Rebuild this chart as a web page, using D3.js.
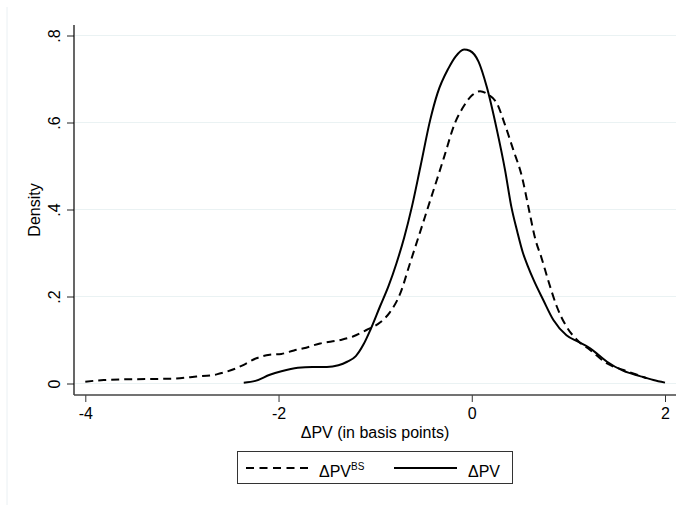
<!DOCTYPE html>
<html>
<head>
<meta charset="utf-8">
<script src="https://cdn.jsdelivr.net/npm/d3@7"></script>
<style>
  html, body { margin: 0; padding: 0; background: #fff; }
  svg { display: block; font-family: "Liberation Sans", Arial, sans-serif; }
</style>
</head>
<body>
<svg id="chart" width="691" height="505"></svg>
<script>
// Kernel density of ΔPV^BS (dashed) and ΔPV (solid), in basis points
const bsX = [-4.0,-3.81,-3.47,-3.12,-2.85,-2.64,-2.54,-2.45,-2.36,-2.23,-2.09,-1.97,-1.84,-1.74,-1.57,-1.36,-1.23,-1.09,-0.95,-0.85,-0.74,-0.64,-0.535,-0.43,-0.36,-0.29,-0.172,-0.087,0.0,0.086,0.17,0.26,0.345,0.43,0.52,0.586,0.66,0.72,0.79,0.88,0.98,1.09,1.225,1.40,1.57,1.71,1.81];
const bsY = [0.004,0.008,0.01,0.011,0.016,0.021,0.027,0.034,0.043,0.058,0.066,0.068,0.076,0.081,0.092,0.100,0.108,0.123,0.140,0.163,0.207,0.276,0.348,0.421,0.469,0.518,0.6,0.636,0.662,0.672,0.664,0.644,0.594,0.537,0.475,0.406,0.33,0.29,0.238,0.177,0.131,0.10,0.077,0.046,0.031,0.02,0.012];

const pvX = [-2.36,-2.24,-2.09,-1.97,-1.80,-1.65,-1.50,-1.38,-1.29,-1.20,-1.12,-1.05,-0.95,-0.86,-0.78,-0.70,-0.62,-0.53,-0.43,-0.355,-0.24,-0.17,-0.08,-0.02,0.07,0.155,0.26,0.345,0.41,0.47,0.53,0.58,0.64,0.74,0.845,0.98,1.10,1.225,1.31,1.40,1.57,1.74,1.88,2.0];
const pvY = [0.002,0.006,0.02,0.028,0.036,0.038,0.038,0.042,0.05,0.063,0.09,0.123,0.177,0.225,0.276,0.335,0.406,0.5,0.606,0.667,0.725,0.751,0.768,0.765,0.74,0.682,0.583,0.49,0.406,0.35,0.30,0.27,0.238,0.192,0.146,0.111,0.096,0.081,0.066,0.05,0.029,0.017,0.008,0.002];

const xTicks = [-4, -2, 0, 2];
const xTickLabels = ["-4", "-2", "0", "2"];
const yTicks = [0, 0.2, 0.4, 0.6, 0.8];
const yTickLabels = ["0", ".2", ".4", ".6", ".8"];

const svg = d3.select("#chart");

// plot region
const plotL = 74, plotR = 676, plotT = 25, plotB = 395;
const x = d3.scaleLinear().domain([-4, 2]).range([85.3, 665]);
const y = d3.scaleLinear().domain([0, 0.8]).range([383.5, 35.5]);

// faint outer frame edge
svg.append("line")
  .attr("x1", 7).attr("x2", 7).attr("y1", 7).attr("y2", 505)
  .attr("stroke", "#eaf0f3").attr("stroke-width", 1);

// horizontal grid
svg.append("g").selectAll("line").data(yTicks).join("line")
  .attr("x1", plotL + 1).attr("x2", plotR)
  .attr("y1", d => y(d)).attr("y2", d => y(d))
  .attr("stroke", "#eaf2f3").attr("stroke-width", 1.2);

// y axis
const yAxis = d3.axisLeft(y).tickValues(yTicks).tickSize(7).tickSizeOuter(0)
  .tickFormat((d, i) => yTickLabels[i]);
const gy = svg.append("g").attr("transform", `translate(${plotL},0)`).call(yAxis);
gy.select(".domain").remove();
gy.selectAll(".tick line").attr("stroke", "#222");
gy.selectAll(".tick text")
  .attr("font-size", 16).attr("fill", "#000")
  .attr("transform", "rotate(-90)")
  .attr("x", 0).attr("y", -14).attr("dy", 0)
  .attr("text-anchor", "middle");
svg.append("line")
  .attr("x1", plotL).attr("x2", plotL).attr("y1", plotT).attr("y2", plotB)
  .attr("stroke", "#000").attr("stroke-width", 1.2);

// x axis
const xAxis = d3.axisBottom(x).tickValues(xTicks).tickSize(7).tickSizeOuter(0)
  .tickFormat((d, i) => xTickLabels[i]);
const gx = svg.append("g").attr("transform", `translate(0,${plotB})`).call(xAxis);
gx.select(".domain").remove();
gx.selectAll(".tick line").attr("stroke", "#333");
gx.selectAll(".tick text")
  .attr("font-size", 16).attr("fill", "#000")
  .attr("y", 0).attr("dy", 23.5);
svg.append("line")
  .attr("x1", plotL).attr("x2", plotR).attr("y1", plotB).attr("y2", plotB)
  .attr("stroke", "#444").attr("stroke-width", 1.4);

// axis titles
svg.append("text")
  .attr("transform", `translate(40,210) rotate(-90)`)
  .attr("text-anchor", "middle").attr("font-size", 16).attr("fill", "#000")
  .text("Density");
svg.append("text")
  .attr("x", (plotL + plotR) / 2).attr("y", 438)
  .attr("text-anchor", "middle").attr("font-size", 16).attr("fill", "#000")
  .text("ΔPV (in basis points)");

// density curves
const line = d3.line()
  .x(d => x(d[0])).y(d => y(d[1]))
  .curve(d3.curveMonotoneX);

const bsData = bsX.map((v, i) => [v, bsY[i]]);
const pvData = pvX.map((v, i) => [v, pvY[i]]);

svg.append("path").datum(bsData)
  .attr("d", line).attr("fill", "none")
  .attr("stroke", "#000").attr("stroke-width", 2)
  .attr("stroke-dasharray", "8,5");
svg.append("path").datum(pvData)
  .attr("d", line).attr("fill", "none")
  .attr("stroke", "#000").attr("stroke-width", 2);

// legend
const lg = svg.append("g");
lg.append("rect")
  .attr("x", 237.5).attr("y", 451.5).attr("width", 275).attr("height", 32)
  .attr("fill", "#fff").attr("stroke", "#333").attr("stroke-width", 1);
lg.append("line")
  .attr("x1", 246).attr("x2", 308).attr("y1", 468).attr("y2", 468)
  .attr("stroke", "#000").attr("stroke-width", 2).attr("stroke-dasharray", "8,5.5");
const t1 = lg.append("text").attr("x", 319).attr("y", 477)
  .attr("font-size", 16).attr("fill", "#000");
t1.append("tspan").text("ΔPV");
t1.append("tspan").attr("font-size", 10).attr("dy", -7).text("BS");
lg.append("line")
  .attr("x1", 394).attr("x2", 457).attr("y1", 468).attr("y2", 468)
  .attr("stroke", "#000").attr("stroke-width", 2);
lg.append("text").attr("x", 468).attr("y", 477)
  .attr("font-size", 16).attr("fill", "#000").text("ΔPV");
</script>
</body>
</html>
